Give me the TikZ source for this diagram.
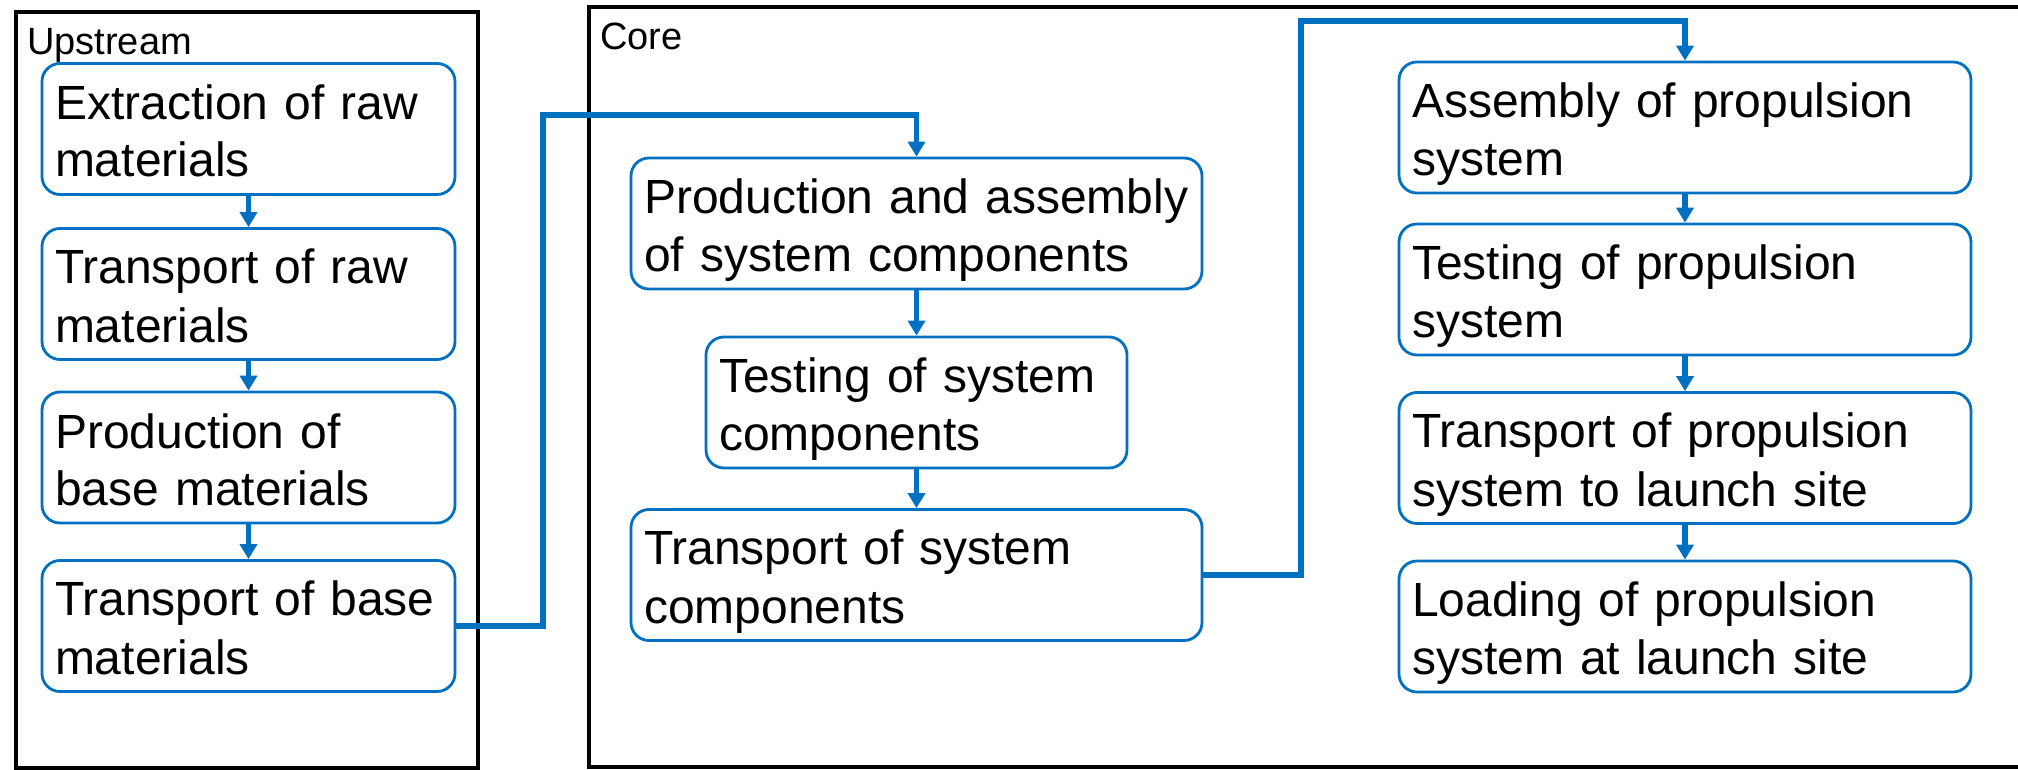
\documentclass[tikz,border=0pt]{standalone}
\usepackage{fontspec}
\setmainfont{Liberation Sans}
\usetikzlibrary{arrows.meta}
\definecolor{myblue}{RGB}{0,112,192}
\newcommand{\mystrut}{\rule[-9.5pt]{0pt}{57pt}}
\newcommand{\boxfont}{\fontsize{48pt}{57pt}\selectfont}
\newcommand{\lblfont}{\fontsize{38pt}{45pt}\selectfont}
\begin{document}
\begin{tikzpicture}[x=1pt,y=-1pt,
  stepbox/.style={draw=myblue, line width=2.8pt, rounded corners=18pt, fill=white,
    align=left, inner xsep=13pt, inner ysep=0pt, minimum height=131pt, font=\boxfont},
  leftcol/.style={stepbox, text width=387pt},
  midcol/.style={stepbox, text width=545pt},
  narrowcol/.style={stepbox, text width=395pt},
  rightcol/.style={stepbox, text width=546pt},
  conn/.style={draw=myblue, line width=5.2pt, line join=miter,
    -{Triangle[width=17pt,length=15pt]}},
  frame/.style={draw=black, line width=4.8pt},
  lbl/.style={font=\lblfont, inner sep=0pt, anchor=base west}
]
\clip (0,0) rectangle (2018,770);
\fill[white] (0,0) rectangle (2018,770);

% frames
\draw[frame] (16,12) rectangle (478,768);
\draw[frame] (589,7) rectangle (2040,767);
\node[lbl] (uplbl) at (27,55) {Upstream};
\node[lbl] (corelbl) at (600,50) {Core};

% left column
\node[leftcol] (b1) at (248.5,129) {\mystrut Extraction of raw\\\mystrut materials};
\node[leftcol] (b2) at (248.5,294) {\mystrut Transport of raw\\\mystrut materials};
\node[leftcol] (b3) at (248.5,457.5) {\mystrut Production of\\\mystrut base materials};
\node[leftcol] (b4) at (248.5,626) {\mystrut Transport of base\\\mystrut materials};

% middle column
\node[midcol] (b5) at (916.5,223.5) {\mystrut Production and assembly\\\mystrut of system components};
\node[narrowcol] (b6) at (916.5,402.5) {\mystrut Testing of system\\\mystrut components};
\node[midcol] (b7) at (916.5,575) {\mystrut Transport of system\\\mystrut components};

% right column
\node[rightcol] (b8) at (1685,127.5) {\mystrut Assembly of propulsion\\\mystrut system};
\node[rightcol] (b9) at (1685,289.5) {\mystrut Testing of propulsion\\\mystrut system};
\node[rightcol] (b10) at (1685,458) {\mystrut Transport of propulsion\\\mystrut system to launch site};
\node[rightcol] (b11) at (1685,626.5) {\mystrut Loading of propulsion\\\mystrut system at launch site};

% arrows
\draw[conn] (b1.south) -- (b2.north);
\draw[conn] (b2.south) -- (b3.north);
\draw[conn] (b3.south) -- (b4.north);
\draw[conn] (b5.south) -- (b6.north);
\draw[conn] (b6.south) -- (b7.north);
\draw[conn] (b8.south) -- (b9.north);
\draw[conn] (b9.south) -- (b10.north);
\draw[conn] (b10.south) -- (b11.north);

\coordinate (c1) at (543,115);
\coordinate (c2) at (1301,21);
\draw[conn] (b4.east) -| (c1) -| (b5.north);
\draw[conn] (b7.east) -| (c2) -| (b8.north);
\end{tikzpicture}
\end{document}
